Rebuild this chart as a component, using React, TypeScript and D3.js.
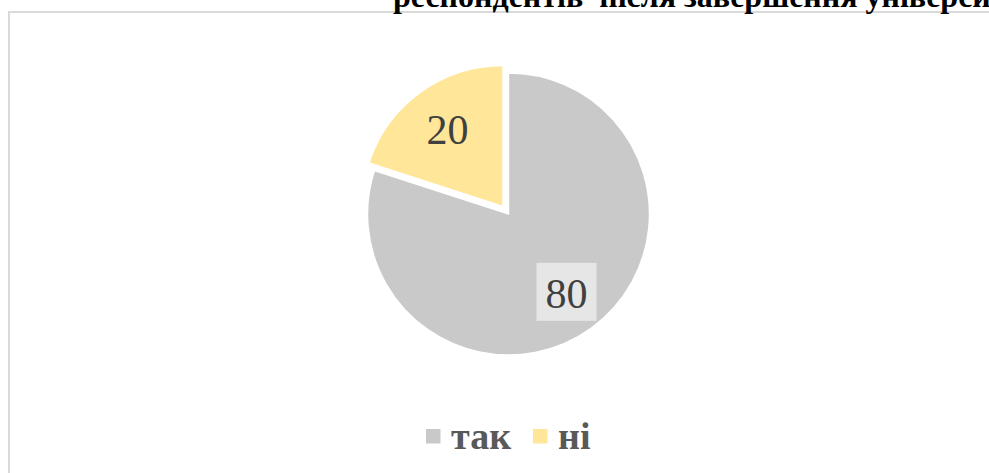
import React from "react";
import * as d3 from "d3";

const categories = ["так", "ні"];
const values = [80, 20];
const colors = ["#c9c9c9", "#ffe699"];
const titleText = "респондентів\u00a0 після завершення університету";

const W = 989;
const H = 473;

export default function App() {
  const cx = 508.5;
  const cy = 214;
  const r = 141;
  const explode = [0, 9.3];
  const pie = d3.pie<number>().sort(null).value((d) => d).startAngle(0).endAngle(2 * Math.PI);
  const arcs = pie(values);
  const arcGen = d3.arc<d3.PieArcDatum<number>>().innerRadius(0).outerRadius(r);

  return (
    <svg
      width={W}
      height={H}
      style={{ position: "absolute", left: 0, top: 0, background: "#fff" }}
      fontFamily="'Liberation Serif', 'Times New Roman', serif"
    >
      <rect x={9} y={12} width={1200} height={800} fill="#fff" stroke="#d9d9d9" strokeWidth={2} />
      <text x={393} y={7} fontSize={32} fontWeight="bold" fill="#000">
        {titleText}
      </text>
      {arcs.map((a, i) => {
        const mid = (a.startAngle + a.endAngle) / 2;
        const dx = Math.sin(mid) * explode[i];
        const dy = -Math.cos(mid) * explode[i];
        const lr = r * (i === 0 ? 0.7 : 0.67);
        const lx = Math.sin(mid) * lr;
        const ly = -Math.cos(mid) * lr;
        return (
          <g key={i} transform={`translate(${cx + dx},${cy + dy})`}>
            <path d={arcGen(a) || ""} fill={colors[i]} stroke="#fff" strokeWidth={1.5} />
            {i === 0 && (
              <rect x={lx - 30} y={ly - 31} width={60} height={58} fill="#e6e6e6" />
            )}
            <text
              x={lx}
              y={ly}
              fontSize={42}
              fill="#404040"
              textAnchor="middle"
              dominantBaseline="central"
            >
              {values[i]}
            </text>
          </g>
        );
      })}
      {categories.map((c, i) => {
        const xs = [426, 533];
        return (
          <g key={c}>
            <rect x={xs[i]} y={429} width={14.5} height={14.5} fill={colors[i]} />
            <text x={xs[i] + 25} y={449} fontSize={38} fontWeight="bold" fill="#595959">
              {c}
            </text>
          </g>
        );
      })}
    </svg>
  );
}
